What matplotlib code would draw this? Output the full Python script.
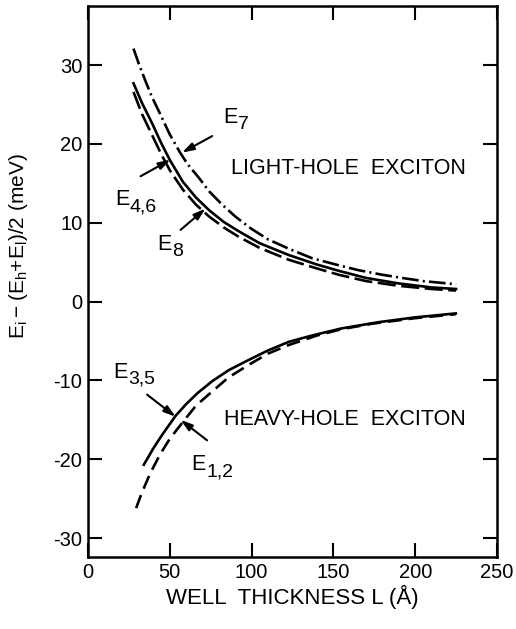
import matplotlib
matplotlib.use('Agg')
import matplotlib.pyplot as plt

# light-hole exciton branches (L in Angstrom, energy in meV)
L_e7 = [27.8, 31, 34.9, 39, 44.1, 50, 56.3, 61, 67.8, 74, 82, 90, 99.4, 110,
        122.8, 137, 153.4, 165, 180, 192, 205, 215, 225]
e7 = [32.1, 30.2, 28.1, 26.0, 23.8, 21.2, 18.9, 17.4, 15.7, 14.0, 12.3, 10.8,
      9.3, 7.9, 6.7, 5.5, 4.6, 4.0, 3.4, 3.0, 2.6, 2.4, 2.2]

L_lh = [27.8, 33, 39, 45, 50.2, 58, 66, 74, 83, 92.3, 105, 122.8, 140, 153.4,
        170, 190, 210, 225]
e46 = [27.7, 25.2, 22.7, 20.0, 17.9, 15.2, 13.2, 11.6, 10.1, 8.9, 7.4, 5.9,
       4.7, 3.9, 3.0, 2.3, 1.8, 1.6]
e8 = [26.6, 23.8, 21.2, 18.6, 16.6, 14.2, 12.3, 10.8, 9.4, 8.2, 6.8, 5.3,
      4.2, 3.4, 2.6, 2.0, 1.6, 1.4]

# heavy-hole exciton branches
L_e35 = [34.1, 40, 45, 53.5, 60, 67, 75.9, 86, 96.3, 110, 122.8, 137, 155,
         177.9, 200, 224.8]
e35 = [-20.7, -18.6, -17.0, -14.5, -13.0, -11.6, -10.1, -8.7, -7.6, -6.2,
       -5.1, -4.3, -3.4, -2.6, -2.0, -1.5]

L_e12 = [29.4, 33, 38, 44, 50, 57.5, 66, 75.9, 86, 98.4, 110, 122.8, 140, 155,
         173.8, 200, 224.8]
e12 = [-26.2, -24.2, -21.8, -19.4, -17.4, -15.4, -13.2, -11.4, -9.6, -8.0,
       -6.6, -5.5, -4.3, -3.5, -2.8, -2.1, -1.6]

x_ticks = [0, 50, 100, 150, 200, 250]
y_ticks = [-30, -20, -10, 0, 10, 20, 30]

plt.rcParams['font.family'] = ['Liberation Sans', 'DejaVu Sans']
plt.rcParams['mathtext.fontset'] = 'custom'
plt.rcParams['mathtext.rm'] = 'Liberation Sans'
plt.rcParams['axes.unicode_minus'] = False
plt.rcParams['lines.scale_dashes'] = False

fig = plt.figure(figsize=(5.16, 6.29), dpi=100)
ax = fig.add_axes([88 / 516, 1 - 557 / 629, 409 / 516, 551 / 629])

lw = 1.9
ax.plot(L_e7, e7, color='k', lw=lw, linestyle=(0, (12, 3, 1.5, 3)))
ax.plot(L_lh, e46, color='k', lw=lw, linestyle='-')
ax.plot(L_lh, e8, color='k', lw=lw, linestyle=(0, (13, 4)))
ax.plot(L_e35, e35, color='k', lw=lw, linestyle='-')
ax.plot(L_e12, e12, color='k', lw=lw, linestyle=(0, (10, 5)))

arrow = dict(arrowstyle='-|>,head_length=0.7,head_width=0.22', color='k',
             lw=1.5, shrinkA=0, shrinkB=0)

def label(sub, pos, tail, tip):
    # big "E" with a nearly full-size subscript, as in the original
    ax.text(pos[0], pos[1], 'E', fontsize=15.5, ha='left', va='center')
    ax.annotate(sub, xy=pos, xytext=(10.5, -5), textcoords='offset points',
                fontsize=14, ha='left', va='center')
    ax.annotate('', xy=tip, xytext=tail, arrowprops=arrow)

label('7', (82.5, 23.3), (75.9, 21.0), (57.5, 18.9))
label('4,6', (16.5, 12.9), (32.1, 15.9), (50.4, 18.0))
label('8', (42.4, 7.2), (56.6, 9.1), (71.8, 11.8))
label('3,5', (15.5, -9.0), (36.1, -11.8), (53.5, -14.6))
label('1,2', (63.4, -20.7), (72.8, -17.6), (56.6, -15.0))

ax.text(158.9, 16.9, 'LIGHT-HOLE  EXCITON', fontsize=15.5, ha='center', va='center')
ax.text(157.0, -15.0, 'HEAVY-HOLE  EXCITON', fontsize=15.5, ha='center', va='center')

ax.set_xlim(0, 250)
ax.set_ylim(-32.4, 37.5)
ax.set_xticks(x_ticks)
ax.set_yticks(y_ticks)
ax.tick_params(direction='in', length=10, width=1.5, top=True, right=True,
               labelsize=14.5, pad=4)
for s in ax.spines.values():
    s.set_linewidth(1.8)

ax.set_xlabel('WELL  THICKNESS L (Å)', fontsize=16, va='center')
ax.xaxis.set_label_coords(0.5, -0.072)
ax.set_ylabel(r'$\mathregular{E_i - (E_h{+}E_l)/2}$ (meV)', fontsize=15,
              va='center')
ax.yaxis.set_label_coords(-0.171, 0.564)

fig.savefig('out.png', dpi=100)
